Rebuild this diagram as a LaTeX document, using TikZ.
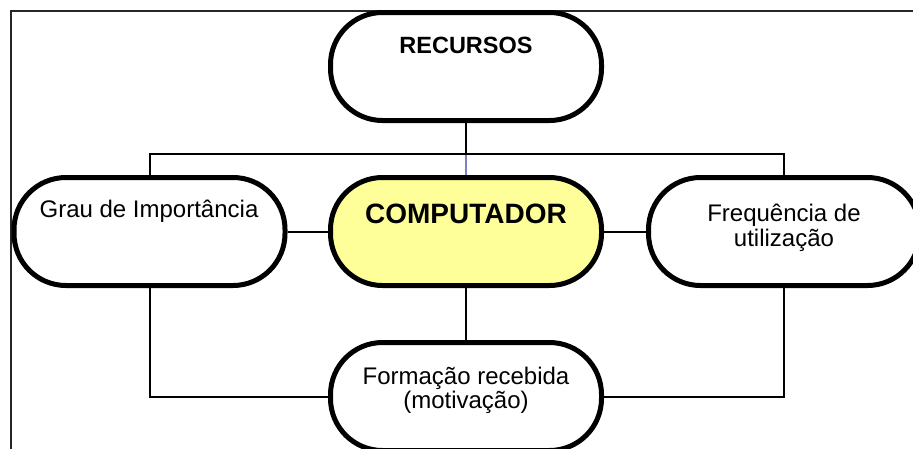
\documentclass[tikz,border=0pt]{standalone}
\usepackage{fontspec}
\setmainfont{Liberation Sans}
\definecolor{pillyellow}{HTML}{FFFF99}
\definecolor{bluelink}{HTML}{8080C0}
\begin{document}
\begin{tikzpicture}[x=1pt,y=-1pt,
  pill/.style={draw, line width=5pt, rounded corners=52pt, minimum width=271pt,
    minimum height=108pt, inner sep=0pt, fill=white},
  conn/.style={line width=2pt},
  lbl/.style={font=\fontsize{24}{24}\selectfont, anchor=base, inner sep=0pt},
  blbl/.style={font=\fontsize{23.5}{24}\bfseries\selectfont, anchor=base, inner sep=0pt}]
\useasboundingbox (0,0) rectangle (913,448);
\clip (0,0) rectangle (913,448);
\draw[line width=2pt, black!85] (11,11) rectangle (940,480);

\node[pill] (rec) at (466,66.5) {};
\node[pill] (grau) at (149.5,231.5) {};
\node[pill, fill=pillyellow] (comp) at (466,231.5) {};
\node[pill] (freq) at (784,231.5) {};
\node[pill] (form) at (466,396.5) {};

\coordinate (hj) at (466,154);

\draw[conn] (rec.south) -- (hj);
\draw[conn, bluelink] (hj) -- (comp.north);
\draw[conn] (grau.north) |- (hj) -| (freq.north);
\draw[conn] (grau.east) -- (comp.west);
\draw[conn] (comp.east) -- (freq.west);
\draw[conn] (comp.south) -- (form.north);
\draw[conn] (grau.south) |- (form.west);
\draw[conn] (freq.south) |- (form.east);

\node[blbl] (trec) at (466,53) {RECURSOS};
\node[lbl] (tgrau) at (149,217) {Grau de Importância};
\node[font=\fontsize{28}{28}\bfseries\selectfont, anchor=base, inner sep=0pt] (tcomp) at (466,223) {COMPUTADOR};
\node[lbl] (tfreq1) at (784,221) {Frequência de};
\node[lbl] (tfreq2) at (784,246) {utilização};
\node[lbl] (tform1) at (466,384) {Formação recebida};
\node[lbl] (tform2) at (466,408) {(motivação)};
\end{tikzpicture}
\end{document}
